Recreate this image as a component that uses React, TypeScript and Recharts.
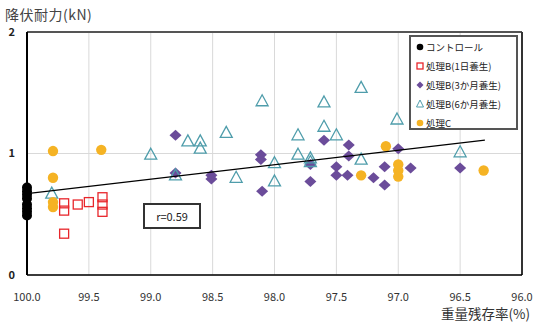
import React from "react";
import { ScatterChart, Scatter, XAxis, YAxis, CartesianGrid, ReferenceLine } from "recharts";

if (typeof document !== "undefined") document.body.style.margin = "0";

const xTicks = [100, 99.5, 99, 98.5, 98, 97.5, 97, 96.5, 96];
const yTicks = [0, 1, 2];

const control = [
  { x: 100, y: 0.72 }, { x: 100, y: 0.69 }, { x: 100, y: 0.66 }, { x: 100, y: 0.63 },
  { x: 100, y: 0.58 }, { x: 100, y: 0.55 }, { x: 100, y: 0.52 }, { x: 100, y: 0.49 },
];
const b1day = [
  { x: 99.7, y: 0.59 }, { x: 99.7, y: 0.53 }, { x: 99.59, y: 0.58 }, { x: 99.5, y: 0.6 },
  { x: 99.39, y: 0.64 }, { x: 99.39, y: 0.58 }, { x: 99.39, y: 0.52 }, { x: 99.7, y: 0.34 },
];
const b3month = [
  { x: 98.8, y: 1.15 }, { x: 98.8, y: 0.84 }, { x: 98.51, y: 0.82 }, { x: 98.51, y: 0.79 },
  { x: 98.11, y: 0.99 }, { x: 98.11, y: 0.95 }, { x: 98.1, y: 0.69 }, { x: 97.6, y: 1.11 },
  { x: 97.71, y: 0.91 }, { x: 97.71, y: 0.77 }, { x: 97.5, y: 0.89 }, { x: 97.5, y: 0.82 },
  { x: 97.4, y: 1.07 }, { x: 97.4, y: 0.98 }, { x: 97.41, y: 0.82 }, { x: 97.2, y: 0.8 },
  { x: 97.11, y: 0.89 }, { x: 97.11, y: 0.74 }, { x: 97.0, y: 1.04 }, { x: 96.9, y: 0.88 },
  { x: 96.5, y: 0.88 },
];
const b6month = [
  { x: 99.8, y: 0.67 }, { x: 99.0, y: 0.99 }, { x: 98.8, y: 0.82 }, { x: 98.7, y: 1.1 },
  { x: 98.6, y: 1.1 }, { x: 98.6, y: 1.04 }, { x: 98.39, y: 1.17 }, { x: 98.31, y: 0.8 },
  { x: 98.1, y: 1.43 }, { x: 98.0, y: 0.92 }, { x: 98.0, y: 0.77 }, { x: 97.81, y: 1.15 },
  { x: 97.81, y: 0.99 }, { x: 97.71, y: 0.96 }, { x: 97.71, y: 0.93 }, { x: 97.6, y: 1.42 },
  { x: 97.6, y: 1.22 }, { x: 97.5, y: 1.15 }, { x: 97.3, y: 1.54 }, { x: 97.01, y: 1.28 },
  { x: 97.3, y: 0.95 }, { x: 96.5, y: 1.01 },
];
const treatC = [
  { x: 99.79, y: 1.02 }, { x: 99.4, y: 1.03 }, { x: 99.79, y: 0.8 }, { x: 99.79, y: 0.6 },
  { x: 99.79, y: 0.56 }, { x: 97.1, y: 1.06 }, { x: 97.0, y: 0.91 }, { x: 97.0, y: 0.86 },
  { x: 97.0, y: 0.81 }, { x: 97.3, y: 0.82 }, { x: 96.31, y: 0.86 },
];
const trend = [{ x: 100, y: 0.67 }, { x: 96.3, y: 1.11 }];

const seriesNames = ["コントロール", "処理B(1日養生)", "処理B(3か月養生)", "処理B(6か月養生)", "処理C"];
const rLabel = "r=0.59";

const BLACK = "#000000";
const RED = "#e8262b";
const PURPLE = "#6b4c9a";
const TEAL = "#4f9dab";
const ORANGE = "#f5b324";
const FONT = '"Noto Sans CJK JP", "Noto Sans", sans-serif';

const circleShape = (color: string, r: number) => (p: any) =>
  <circle cx={p.cx} cy={p.cy} r={r} fill={color} />;
const squareShape = (p: any) =>
  <rect x={p.cx - 4.5} y={p.cy - 4.5} width={9} height={9} fill="none" stroke={RED} strokeWidth={1.3} />;
const diamondShape = (p: any) =>
  <polygon points={`${p.cx},${p.cy - 5.5} ${p.cx + 6},${p.cy} ${p.cx},${p.cy + 5.5} ${p.cx - 6},${p.cy}`} fill={PURPLE} />;
const triangleShape = (p: any) =>
  <polygon points={`${p.cx},${p.cy - 6.5} ${p.cx + 6},${p.cy + 4.5} ${p.cx - 6},${p.cy + 4.5}`} fill="none" stroke={TEAL} strokeWidth={1.3} />;
const noShape = () => <g />;

const legendIcon = (i: number) => {
  const cx = 7, cy = 6;
  if (i === 0) return <circle cx={cx} cy={cy} r={3.3} fill={BLACK} />;
  if (i === 1) return <rect x={cx - 3} y={cy - 3} width={6} height={6} fill="none" stroke={RED} strokeWidth={1.3} />;
  if (i === 2) return <polygon points={`${cx},${cy - 3.5} ${cx + 3.5},${cy} ${cx},${cy + 3.5} ${cx - 3.5},${cy}`} fill={PURPLE} />;
  if (i === 3) return <polygon points={`${cx},${cy - 4} ${cx + 3.5},${cy + 3} ${cx - 3.5},${cy + 3}`} fill="none" stroke={TEAL} strokeWidth={1} />;
  return <circle cx={cx} cy={cy} r={3.3} fill={ORANGE} />;
};

export default function App() {
  return (
    <div style={{ position: "relative", width: 534, height: 322, fontFamily: FONT, background: "#fff" }}>
      <ScatterChart width={534} height={322} margin={{ top: 32, right: 12, bottom: 17, left: 0 }}>
        <CartesianGrid stroke="#d9d9d9" strokeWidth={1} />
        <XAxis
          type="number"
          dataKey="x"
          domain={[96, 100]}
          reversed
          ticks={xTicks}
          interval={0}
          tickFormatter={(v: number) => v.toFixed(1)}
          height={30}
          tickSize={0}
          tickMargin={18}
          tickLine={false}
          axisLine={{ stroke: "#000", strokeWidth: 1.5 }}
          tick={{ fill: "#333", fontSize: 11, fontFamily: FONT }}
        />
        <YAxis
          type="number"
          dataKey="y"
          domain={[0, 2]}
          ticks={yTicks}
          interval={0}
          width={27}
          tickSize={0}
          tickMargin={12}
          tickLine={false}
          axisLine={{ stroke: "#000", strokeWidth: 2 }}
          tick={{ fill: "#222", fontSize: 11, fontWeight: 700, fontFamily: FONT }}
        />
        <ReferenceLine y={2} stroke="#555" strokeWidth={2} />
        <ReferenceLine x={96} stroke="#333" strokeWidth={2} />
        <Scatter name={seriesNames[0]} data={control} shape={circleShape(BLACK, 5)} isAnimationActive={false} />
        <Scatter name={seriesNames[1]} data={b1day} shape={squareShape} isAnimationActive={false} />
        <Scatter name={seriesNames[2]} data={b3month} shape={diamondShape} isAnimationActive={false} />
        <Scatter name={seriesNames[3]} data={b6month} shape={triangleShape} isAnimationActive={false} />
        <Scatter name={seriesNames[4]} data={treatC} shape={circleShape(ORANGE, 5.2)} isAnimationActive={false} />
        <Scatter data={trend} shape={noShape} line={{ stroke: "#000", strokeWidth: 1.3 }} isAnimationActive={false} />
      </ScatterChart>

      <div style={{ position: "absolute", left: 5, top: 4, fontSize: 14, color: "#444", letterSpacing: 0.5 }}>降伏耐力(kN)</div>
      <div style={{ position: "absolute", left: 441, top: 303, fontSize: 13.5, color: "#333" }}>重量残存率(%)</div>

      <div style={{
        position: "absolute", left: 409, top: 35, width: 105, height: 91,
        border: "2px solid #555", background: "#fff", boxSizing: "content-box",
      }}>
        {seriesNames.map((n, i) => (
          <div key={n} style={{ position: "absolute", left: 2, top: 4 + i * 19, height: 12, display: "flex", alignItems: "center" }}>
            <svg width={12} height={12} style={{ display: "block" }}>{legendIcon(i)}</svg>
            <span style={{ fontSize: 9.5, color: "#222", marginLeft: 1, whiteSpace: "nowrap", lineHeight: "12px" }}>{n}</span>
          </div>
        ))}
      </div>

      <div style={{
        position: "absolute", left: 143, top: 203, width: 54, height: 22,
        border: "2px solid #333", background: "#fff", fontSize: 11, color: "#222",
        display: "flex", alignItems: "center", justifyContent: "center",
      }}>{rLabel}</div>
    </div>
  );
}
